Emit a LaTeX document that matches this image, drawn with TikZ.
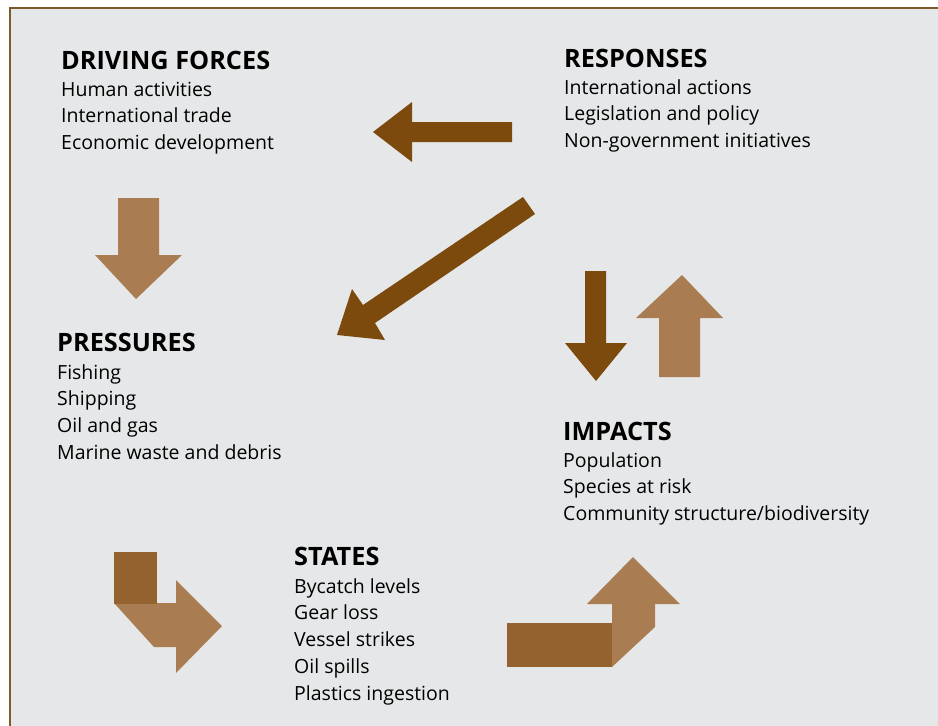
\documentclass[tikz,border=0pt]{standalone}
\usepackage{fontspec}
\setmainfont{Open Sans}
\usetikzlibrary{positioning}

\definecolor{panelgray}{HTML}{E6E7E8}
\definecolor{framebrown}{HTML}{7D5B28}
\definecolor{darkbrown}{HTML}{7B4A0C}
\definecolor{lightbrown}{HTML}{A97C52}
\definecolor{midbrown}{HTML}{93622F}

\begin{document}
\begin{tikzpicture}[x=1pt,y=-1pt,
    head/.style={anchor=base west, inner sep=0pt, font=\fontsize{25.3}{27}\selectfont\bfseries},
    % multi-line nodes sit on the baseline of their last line
    body/.style={anchor=base west, inner sep=0pt, align=left, font=\fontsize{19.5}{26.8}\selectfont},
    darkarrow/.style={fill=darkbrown},
    lightarrow/.style={fill=lightbrown},
    bendpart/.style={fill=midbrown}]
    \useasboundingbox (0,0) rectangle (938,726);
    \clip (0,0) rectangle (938,726);

    % Panel and its frame
    \fill[white] (0,0) rectangle (938,726);
    \fill[panelgray] (10,8) rectangle (950,740);
    \draw[framebrown, line width=2pt] (10,740) -- (10,8) -- (950,8);

    % Headings and lists
    \node[head] (drv) at (61,69) {DRIVING FORCES};
    \node[body] (drvlist) at (61,149.6) {Human activities\\International trade\\Economic development};

    \node[head] (rsp) at (564,67) {RESPONSES};
    \node[body] (rsplist) at (564,147.6) {International actions\\Legislation and policy\\Non-government initiatives};

    \node[head] (prs) at (57,351) {PRESSURES};
    \node[body] (prslist) at (57,459.4) {Fishing\\Shipping\\Oil and gas\\Marine waste and debris};

    \node[head] (imp) at (563,440) {IMPACTS};
    \node[body] (implist) at (563,520.6) {Population\\Species at risk\\Community structure/biodiversity};

    \node[head] (sts) at (294,565) {STATES};
    \node[body] (stslist) at (294,700.2) {Bycatch levels\\Gear loss\\Vessel strikes\\Oil spills\\Plastics ingestion};

    % Responses -> driving forces
    \fill[darkarrow] (512,122) -- (412,122) -- (412,102) -- (373,132) -- (412,162)
        -- (412,142) -- (512,142) -- cycle;

    % Responses -> pressures
    \fill[darkarrow] (523,197) -- (535,214) -- (375,323) -- (385,340) -- (337,335)
        -- (352,289) -- (363,305) -- cycle;

    % Driving forces -> pressures
    \fill[lightarrow] (118,198) -- (159,198) -- (159,255) -- (182,255) -- (136,299)
        -- (95,255) -- (118,255) -- cycle;

    % Responses -> impacts
    \fill[darkarrow] (585,271) -- (606,271) -- (606,343) -- (627,343) -- (596,381)
        -- (565,343) -- (585,343) -- cycle;

    % Impacts -> responses
    \fill[lightarrow] (659,377) -- (700,377) -- (700,318) -- (723,318) -- (682,275)
        -- (636,318) -- (659,318) -- cycle;

    % Pressures -> states
    \fill[lightarrow] (114,603) -- (176,603) -- (176,580) -- (222,626) -- (176,673)
        -- (176,647) -- (154,647) -- cycle;
    \fill[bendpart] (114,552) rectangle (157,604);

    % States -> impacts
    \fill[lightarrow] (612,667) -- (655,627) -- (655,604) -- (680,604) -- (633,557)
        -- (587,604) -- (612,604) -- cycle;
    \fill[bendpart] (507,623) rectangle (612,667);
\end{tikzpicture}
\end{document}
